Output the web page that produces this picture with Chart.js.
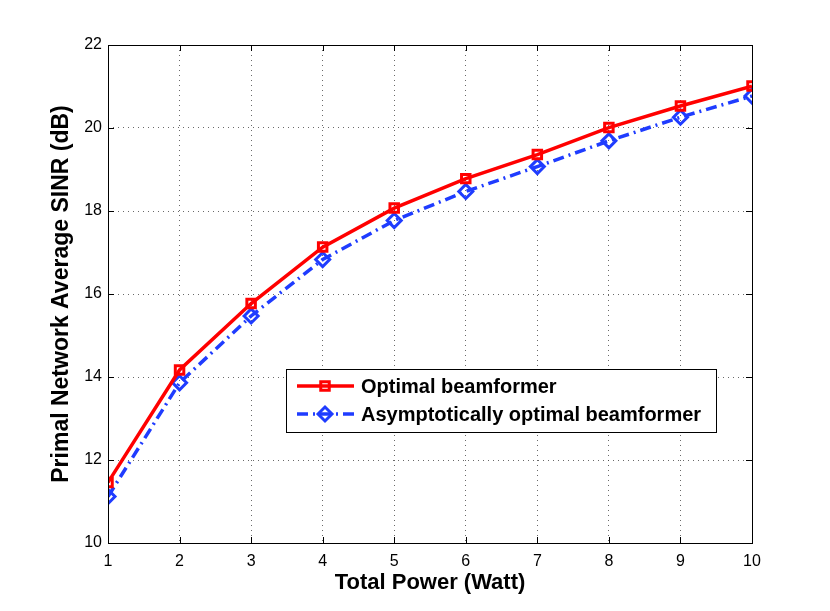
<!DOCTYPE html>
<html><head><meta charset="utf-8">
<script src="https://cdn.jsdelivr.net/npm/chart.js@4"></script>
<style>html,body{margin:0;padding:0;background:#fff}#wrap{width:830px;height:611px}</style>
</head><body><div id="wrap"><canvas id="c" width="830" height="611"></canvas></div>
<script>
const totalPower = [1, 2, 3, 4, 5, 6, 7, 8, 9, 10];
const optimalSINR = [11.46, 14.17, 15.77, 17.13, 18.07, 18.78, 19.36, 20.01, 20.53, 21.01];
const asymptoticSINR = [11.12, 13.86, 15.47, 16.83, 17.77, 18.47, 19.07, 19.69, 20.26, 20.77];
const xTicks = [1, 2, 3, 4, 5, 6, 7, 8, 9, 10];
const yTicks = [10, 12, 14, 16, 18, 20, 22];
const seriesNames = ['Optimal beamformer', 'Asymptotically optimal beamformer'];

const RED = '#ff0000', BLUE = '#1f3cff';
const FONT = 'Liberation Sans, Arial, sans-serif';

const frame = {
  id: 'frame',
  afterDraw(chart) {
    const {ctx, chartArea: a, scales: {x, y}} = chart;
    ctx.save();
    ctx.strokeStyle = '#000'; ctx.lineWidth = 1;
    ctx.strokeRect(a.left + 0.5, a.top + 0.5, a.right - a.left, a.bottom - a.top);
    const L = 6;
    ctx.beginPath();
    xTicks.forEach(v => { const p = Math.round(x.getPixelForValue(v)) + 0.5;
      ctx.moveTo(p, a.bottom); ctx.lineTo(p, a.bottom - L);
      ctx.moveTo(p, a.top); ctx.lineTo(p, a.top + L); });
    yTicks.forEach(v => { const p = Math.round(y.getPixelForValue(v)) + 0.5;
      ctx.moveTo(a.left, p); ctx.lineTo(a.left + L, p);
      ctx.moveTo(a.right, p); ctx.lineTo(a.right - L, p); });
    ctx.stroke();
    // legend
    const bx = 286, by = 369, bw = 430, bh = 63;
    ctx.fillStyle = '#fff'; ctx.fillRect(bx, by, bw, bh);
    ctx.strokeRect(bx + 0.5, by + 0.5, bw, bh);
    const rows = [386, 414];
    chart.data.datasets.forEach((ds, i) => {
      const yy = rows[i];
      ctx.save();
      ctx.strokeStyle = ds.borderColor; ctx.lineWidth = ds.borderWidth;
      ctx.setLineDash(ds.borderDash || []);
      ctx.beginPath(); ctx.moveTo(297, yy); ctx.lineTo(354, yy); ctx.stroke();
      ctx.setLineDash([]);
      ctx.strokeStyle = ds.pointBorderColor; ctx.fillStyle = 'rgba(0,0,0,0)';
      ctx.lineWidth = ds.pointBorderWidth;
      Chart.helpers.drawPoint(ctx, {pointStyle: ds.pointStyle, radius: ds.pointRadius, borderWidth: ds.pointBorderWidth, rotation: 0}, 325, yy);
      ctx.restore();
      ctx.fillStyle = '#000'; ctx.font = 'bold 20px ' + FONT;
      ctx.textBaseline = 'middle'; ctx.textAlign = 'left';
      ctx.fillText(ds.label, 361, yy + 1);
    });
    ctx.restore();
  }
};

function mk(ys) { return totalPower.map((v, i) => ({x: v, y: ys[i]})); }

new Chart(document.getElementById('c'), {
  type: 'line',
  data: { datasets: [
    { label: seriesNames[0], data: mk(optimalSINR), borderColor: RED, backgroundColor: 'rgba(0,0,0,0)',
      borderWidth: 3.5, pointStyle: 'rect', pointRadius: 6, pointBorderWidth: 3, pointBorderColor: RED,
      pointBackgroundColor: 'rgba(0,0,0,0)', tension: 0 },
    { label: seriesNames[1], data: mk(asymptoticSINR), borderColor: BLUE, backgroundColor: 'rgba(0,0,0,0)',
      borderWidth: 3.5, borderDash: [11, 5, 2, 5], pointStyle: 'rectRot', pointRadius: 7, pointBorderWidth: 3,
      pointBorderColor: BLUE, pointBackgroundColor: 'rgba(0,0,0,0)', tension: 0 }
  ]},
  options: {
    responsive: false, animation: false, devicePixelRatio: 1,
    layout: { padding: { top: 45, right: 78, left: 0, bottom: 0 } },
    plugins: { legend: { display: false }, tooltip: { enabled: false } },
    scales: {
      x: { type: 'linear', min: 1, max: 10,
        afterBuildTicks: s => { s.ticks = xTicks.map(v => ({value: v})); },
        afterFit: s => { s.height = 68; },
        ticks: { color: '#000', font: { family: FONT, size: 16 }, padding: 9, maxRotation: 0 },
        grid: { color: '#444', lineWidth: 0.8, drawTicks: false },
        border: { display: false, dash: [1, 4] },
        title: { display: true, text: 'Total Power (Watt)', color: '#000', font: { family: FONT, size: 22, weight: 'bold' }, padding: { top: 0, bottom: 15 } } },
      y: { min: 10, max: 22,
        afterBuildTicks: s => { s.ticks = yTicks.map(v => ({value: v})); },
        afterFit: s => { s.width = 108; },
        ticks: { color: '#000', font: { family: FONT, size: 16 }, padding: 6 },
        grid: { color: '#444', lineWidth: 0.8, drawTicks: false },
        border: { display: false, dash: [1, 4] },
        title: { display: true, text: 'Primal Network Average SINR (dB)', color: '#000', font: { family: FONT, size: 23, weight: 'bold' }, padding: { top: 48, bottom: 0 } } }
    }
  },
  plugins: [frame]
});
</script></body></html>
